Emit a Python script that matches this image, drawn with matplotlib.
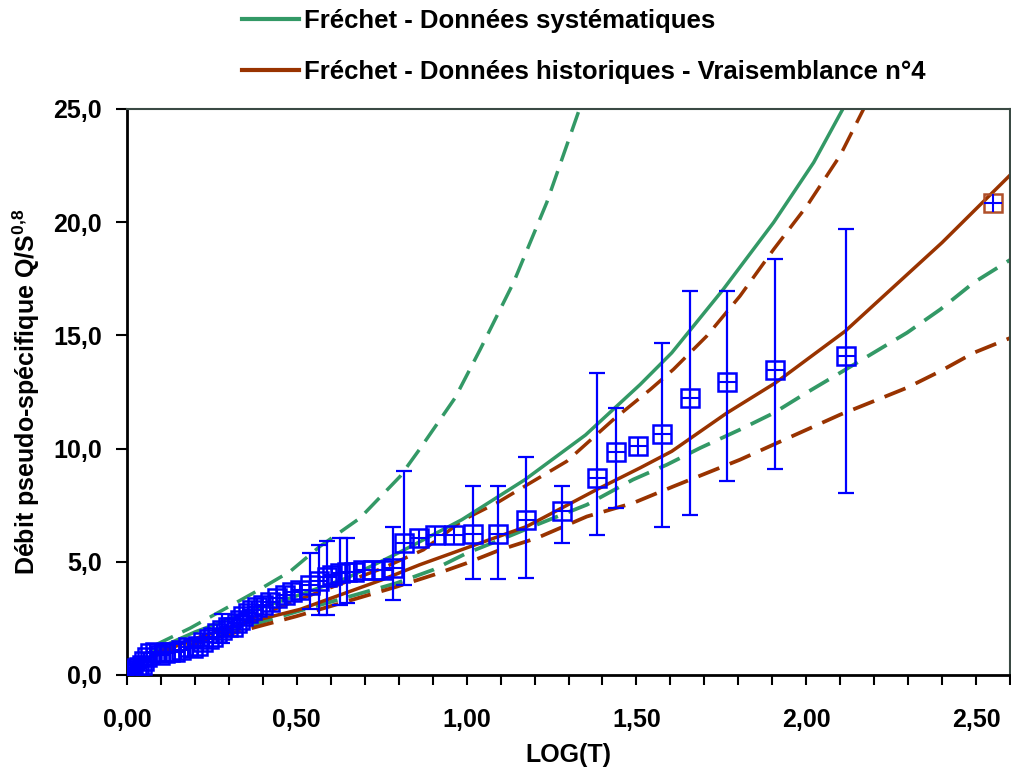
import numpy as np
import matplotlib.pyplot as plt
from matplotlib.lines import Line2D

plt.rcParams['font.family'] = ['Liberation Sans', 'DejaVu Sans']
plt.rcParams['font.weight'] = 'bold'
plt.rcParams['mathtext.fontset'] = 'custom'
plt.rcParams['mathtext.rm'] = 'Liberation Sans:bold'
plt.rcParams['mathtext.bf'] = 'Liberation Sans:bold'

GREEN = '#339966'
BROWN = '#993300'
BLUE = '#0000FF'

# Observed points (log T, Q/S^0.8)
x_obs = [0.004, 0.012, 0.019, 0.028, 0.036, 0.043, 0.05, 0.058, 0.068, 0.082,
         0.097, 0.112, 0.126, 0.141, 0.158, 0.18, 0.195, 0.21, 0.225, 0.24,
         0.252, 0.264, 0.28, 0.296, 0.313, 0.323, 0.333, 0.343, 0.355, 0.367,
         0.382, 0.40, 0.421, 0.443, 0.465, 0.487, 0.51, 0.539, 0.564, 0.588,
         0.605, 0.627, 0.647, 0.667, 0.696, 0.725, 0.755, 0.784, 0.816, 0.86,
         0.907, 0.963, 1.019, 1.093, 1.175, 1.281, 1.384, 1.44, 1.505, 1.576,
         1.658, 1.768, 1.909, 2.118]
y_obs = [0.08, 0.15, 0.22, 0.3, 0.37, 0.45, 0.6, 0.81, 0.95, 1.0,
         0.9, 0.95, 1.0, 1.03, 1.1, 1.25, 1.18, 1.3, 1.45, 1.6,
         1.7, 1.84, 2.0, 2.1, 2.14, 2.3, 2.43, 2.6, 2.73, 2.85,
         3.02, 3.1, 3.24, 3.4, 3.55, 3.65, 3.76, 3.98, 4.13, 4.35,
         4.4, 4.5, 4.55, 4.57, 4.65, 4.65, 4.65, 4.72, 5.84, 6.06,
         6.19, 6.19, 6.24, 6.24, 6.86, 7.26, 8.72, 9.87, 10.13, 10.66,
         12.24, 12.95, 13.47, 14.08]

# Confidence intervals shown on some points
ci_x = [0.28, 0.539, 0.564, 0.588, 0.627, 0.647, 0.784, 0.816, 1.019, 1.093,
        1.175, 1.281, 1.384, 1.44, 1.576, 1.658, 1.768, 1.909, 2.118]
ci_y = [2.0, 3.98, 4.13, 4.35, 4.5, 4.55, 4.72, 5.84, 6.24, 6.24,
        6.86, 7.26, 8.72, 9.87, 10.66, 12.24, 12.95, 13.47, 14.08]
ci_lo = [1.4, 2.9, 2.65, 2.65, 3.1, 3.2, 3.3, 3.98, 4.25, 4.25,
         4.29, 5.84, 6.19, 7.39, 6.52, 7.05, 8.55, 9.08, 8.04]
ci_hi = [2.68, 5.4, 5.75, 5.9, 6.05, 6.05, 6.53, 9.03, 8.36, 8.36,
         9.65, 8.36, 13.35, 11.8, 14.68, 16.98, 16.98, 18.39, 19.7]

# Historical flood
hist_pt_x = [2.549]
hist_pt_y = [20.83]

# Fréchet - systematic data (fit and bounds)
sys_x = [0.08, 0.2, 0.35, 0.5, 0.65, 0.8, 0.986, 1.172, 1.35, 1.511,
         1.604, 1.756, 1.904, 2.022, 2.115, 2.16]
sys_y = [1.1, 1.9, 2.75, 3.5, 4.3, 5.4, 6.86, 8.63, 10.6, 12.83,
         14.23, 17.04, 19.99, 22.64, 25.2, 26.5]
sys_up_x = [0.08, 0.186, 0.372, 0.48, 0.568, 0.686, 0.804, 0.863, 0.966, 1.04,
            1.138, 1.236, 1.334, 1.37]
sys_up_y = [1.3, 2.07, 3.62, 4.57, 5.68, 6.93, 8.77, 10.0, 12.24, 14.38,
            17.33, 20.87, 25.07, 26.6]
sys_lo_x = [0.08, 0.3, 0.5, 0.794, 0.902, 1.0, 1.099, 1.207, 1.354, 1.49,
            1.59, 1.688, 1.805, 1.904, 2.0, 2.1, 2.198, 2.297, 2.395, 2.493, 2.603]
sys_lo_y = [0.9, 1.9, 2.8, 4.06, 4.65, 5.38, 5.97, 6.64, 7.52, 8.63,
            9.29, 10.03, 10.84, 11.57, 12.46, 13.35, 14.23, 15.12, 16.15, 17.33, 18.36]

# Fréchet - historical data, likelihood n°4
hist_x = [0.08, 0.2, 0.35, 0.51, 0.75, 0.862, 1.04, 1.177, 1.383, 1.511,
          1.604, 1.766, 1.909, 2.115, 2.4, 2.603]
hist_y = [0.9, 1.6, 2.3, 2.9, 4.2, 4.87, 5.83, 6.56, 8.19, 9.15,
          9.88, 11.57, 12.9, 15.19, 19.1, 22.12]
hist_up_x = [0.08, 0.3, 0.5, 0.75, 0.873, 0.991, 1.089, 1.187, 1.295, 1.432,
             1.54, 1.609, 1.707, 1.805, 1.904, 2.002, 2.1, 2.179, 2.2]
hist_up_y = [1.0, 2.1, 3.3, 4.7, 5.53, 6.86, 7.6, 8.48, 9.44, 11.28,
             12.6, 13.5, 14.97, 16.74, 18.8, 20.72, 22.95, 25.3, 26.0]
hist_lo_x = [0.08, 0.3, 0.5, 0.794, 0.902, 1.0, 1.099, 1.207, 1.354, 1.491,
             1.609, 1.707, 1.805, 1.904, 2.002, 2.1, 2.198, 2.297, 2.395, 2.493, 2.603]
hist_lo_y = [0.85, 1.8, 2.6, 3.9, 4.42, 4.94, 5.53, 6.05, 7.0, 7.6,
             8.33, 8.92, 9.51, 10.18, 10.84, 11.5, 12.09, 12.69, 13.42, 14.23, 14.9]

legend_labels = ["Fréchet - Données systématiques",
                 "Fréchet - Données historiques - Vraisemblance n°4"]

fig = plt.figure(figsize=(10.11, 7.69), dpi=100)
ax = fig.add_axes([127 / 1011, 1 - 675 / 769, 883 / 1011, 566 / 769])

dash = (6, 3)
ax.plot(sys_up_x, sys_up_y, color=GREEN, lw=2.5, dashes=dash, zorder=2)
ax.plot(sys_lo_x, sys_lo_y, color=GREEN, lw=2.7, dashes=dash, zorder=2)
ax.plot(hist_up_x, hist_up_y, color=BROWN, lw=2.5, dashes=dash, zorder=2)
ax.plot(hist_lo_x, hist_lo_y, color=BROWN, lw=2.7, dashes=dash, zorder=2)
ax.plot(sys_x, sys_y, color=GREEN, lw=2.5, zorder=2)
ax.plot(hist_x, hist_y, color=BROWN, lw=2.5, zorder=2)

# error bars
ci_y_arr = np.array(ci_y)
yerr = [ci_y_arr - np.array(ci_lo), np.array(ci_hi) - ci_y_arr]
ax.errorbar(ci_x, ci_y, yerr=yerr, fmt='none', ecolor=BLUE, elinewidth=1.6,
            capsize=5.5, capthick=1.6, zorder=3)

# observation markers
ax.plot(x_obs, y_obs, ls='none', marker='s', ms=12.5, mfc='none', mec=BLUE, mew=1.8, zorder=4)
ax.plot(x_obs, y_obs, ls='none', marker='+', ms=12.5, mec=BLUE, mew=1.5, zorder=4)
ax.plot(hist_pt_x, hist_pt_y, ls='none', marker='s', ms=12.5, mfc='none', mec='#B0502A', mew=1.8, zorder=4)
ax.plot(hist_pt_x, hist_pt_y, ls='none', marker='+', ms=12.5, mec=BLUE, mew=1.5, zorder=4)

ax.set_xlim(0, 2.6)
ax.set_ylim(0, 25)

xt = np.round(np.arange(0, 2.61, 0.1), 2)
ax.set_xticks(xt)
ax.set_xticklabels([f"{v:.2f}".replace('.', ',') if abs(v * 2 - round(v * 2)) < 1e-6 else '' for v in xt])
yt = np.arange(0, 26, 5)
ax.set_yticks(yt)
ax.set_yticklabels([f"{v:.1f}".replace('.', ',') for v in yt])

ax.tick_params(axis='x', direction='out', length=7, width=1.5, labelsize=18, pad=17)
ax.tick_params(axis='y', direction='out', length=8, width=1.5, labelsize=18, pad=10)

for side in ['left', 'bottom']:
    ax.spines[side].set_linewidth(2)
    ax.spines[side].set_color('black')
for side in ['top', 'right']:
    ax.spines[side].set_linewidth(1.5)
    ax.spines[side].set_color('#3a4a44')

ax.set_xlabel("LOG(T)", fontsize=18, fontweight='bold', labelpad=8)
ax.set_ylabel(r"Débit pseudo-spécifique Q/S$^{0{,}8}$", fontsize=18, fontweight='bold', labelpad=8)

handles = [Line2D([], [], color=GREEN, lw=3), Line2D([], [], color=BROWN, lw=3)]
fig.legend(handles, legend_labels, loc='upper left', bbox_to_anchor=(242 / 1011, 1 - 9 / 769),
           frameon=False, fontsize=18.5, handlelength=2.2, handletextpad=0.2,
           labelspacing=1.05, borderpad=0, borderaxespad=0)

fig.savefig('out.png', dpi=100)
